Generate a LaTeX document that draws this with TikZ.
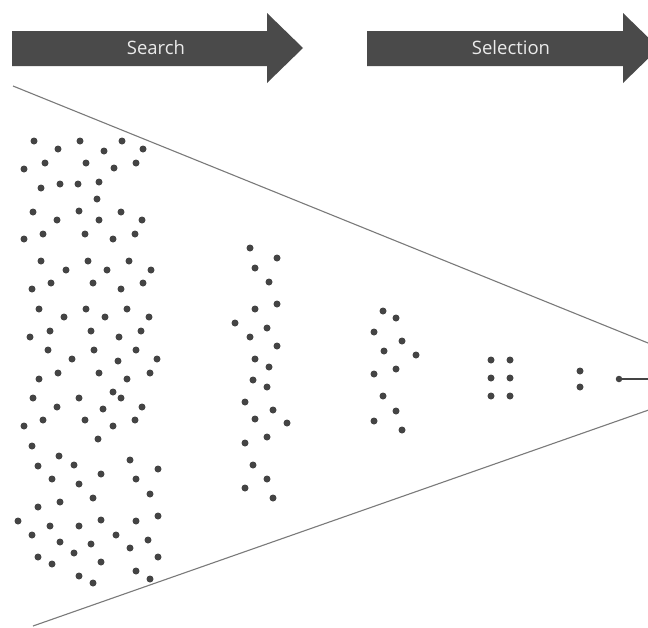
\documentclass[tikz,border=0pt]{standalone}
\usepackage{fontspec}
\setmainfont{Open Sans}
\definecolor{bandgray}{HTML}{4A4A4A}
\definecolor{dotgray}{HTML}{444444}
\definecolor{funnelgray}{HTML}{7A7A7A}
\begin{document}
\begin{tikzpicture}
[x=1pt, y=-1pt,
 dot/.style={circle, fill=dotgray, inner sep=0pt, minimum size=7pt},
 band/.style={fill=bandgray, draw=none},
 bandtext/.style={text=white!92!black, font=\fontsize{18.5}{20}\selectfont, inner sep=0pt},
 funnel/.style={draw=funnelgray, line width=1.1pt}]
\clip (0,0) rectangle (648,627);
\fill[white] (0,0) rectangle (648,627);

% phase bands
\path[band] (12,31) -- (267,31) -- (267,13) -- (303,48) -- (267,83) -- (267,66) -- (12,66) -- cycle;
\node[bandtext] (Search) at (156,48) {Search};
\path[band] (367,31) -- (623,31) -- (623,13) -- (659,48) -- (623,83) -- (623,66) -- (367,66) -- cycle;
\node[bandtext] (Selection) at (511,48) {Selection};

% funnel
\coordinate (TopStart) at (13,86);
\coordinate (BotStart) at (33,626);
\coordinate (Apex) at (737,379);
\draw[funnel] (TopStart) -- (Apex);
\draw[funnel] (BotStart) -- (Apex);

% ideas, wide field
\foreach \x/\y [count=\i] in {34/141,58/149,80/141,104/151,122/141,143/149,
  24/169,45/163,86/163,114/168,136/163,41/188,60/184,78/184,99/182,97/199,
  33/212,57/220,79/211,99/220,121/212,142/220,24/239,43/234,85/234,113/239,135/234,
  41/261,66/270,88/261,107/270,129/261,151/270,32/289,51/283,93/283,121/289,143/283,
  39/309,64/317,86/309,105/317,127/309,149/317,30/337,50/331,91/331,119/337,141/331,
  48/350,72/359,94/350,118/361,136/350,157/359,
  39/379,58/373,99/373,127/379,150/373,33/398,57/407,79/398,103/409,113/392,121/398,142/407,
  24/426,43/420,85/420,113/426,135/420,98/439,32/446,59/456,38/466,74/465,130/460,158/469,
  52/479,79/484,101/474,136/479,150/494,60/502,93/498,38/507,18/521,50/526,79/526,
  101/520,136/521,158/516,32/535,60/542,91/544,116/535,148/540,130/548,38/557,52/564,
  74/553,101/562,158/557,136/571,79/576,93/583,150/579}
  \node[dot] (a\i) at (\x,\y) {};

% ideas, first cut
\foreach \x/\y [count=\i] in {250/248,277/258,255/268,269/282,277/304,255/309,235/323,
  267/328,250/337,277/346,255/359,269/367,253/380,267/387,245/402,273/410,255/419,
  287/423,245/443,267/437,253/465,267/479,245/488,273/498}
  \node[dot] (b\i) at (\x,\y) {};

% ideas, second cut
\foreach \x/\y [count=\i] in {383/311,396/318,374/332,402/341,384/351,416/355,
  374/374,396/369,383/396,396/411,374/421,402/430}
  \node[dot] (c\i) at (\x,\y) {};

% shortlist
\foreach \x/\y [count=\i] in {491/360,510/360,491/378,510/378,491/396,510/396}
  \node[dot] (d\i) at (\x,\y) {};
\node[dot] (e1) at (580,371) {};
\node[dot] (e2) at (580,387) {};

% winner
\node[dot, minimum size=6.5pt] (Winner) at (619,379) {};
\coordinate (Out) at (660,379);
\draw[funnel, line width=1.3pt, draw=dotgray] (Winner) -- (Out);
\end{tikzpicture}
\end{document}
